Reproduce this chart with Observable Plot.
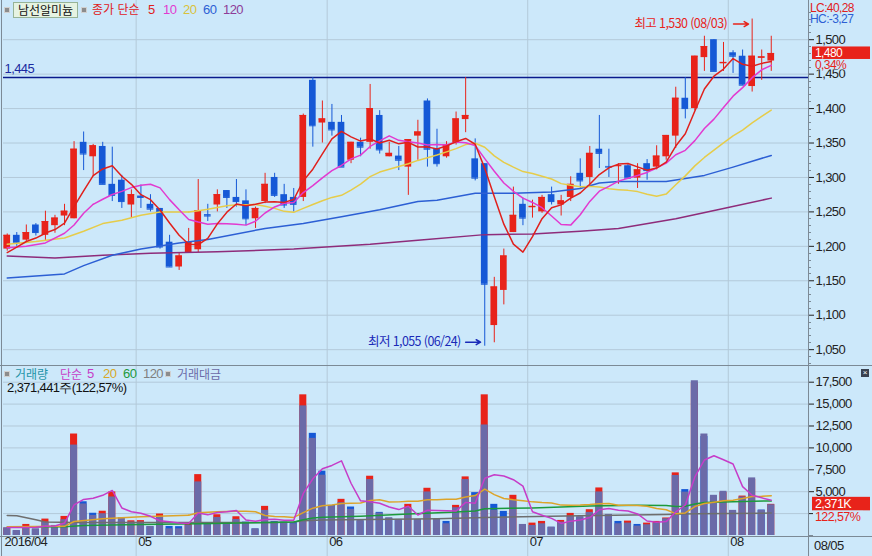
<!DOCTYPE html>
<html lang="ko"><head><meta charset="utf-8">
<script src="https://cdn.jsdelivr.net/npm/d3@7"></script>
<script src="https://cdn.jsdelivr.net/npm/@observablehq/plot@0.6"></script>
<style>
html,body{margin:0;padding:0;background:#cce8fa;}
#wrap{position:relative;width:872px;height:556px;overflow:hidden;background:#cce8fa;}
#topPanel,#botPanel{position:absolute;left:0;}
#topPanel{top:0}#botPanel{top:365px}
#wrap svg text{letter-spacing:-0.6px;}
.lg{position:absolute;white-space:nowrap;font-family:'Liberation Sans',sans-serif;font-size:13px;line-height:12px;letter-spacing:-0.6px;}
.sm{font-size:12px;line-height:10px;}
.kr{font-family:'Noto Sans CJK KR',sans-serif;font-size:12px;letter-spacing:0;}
.sq{position:absolute;width:4px;height:4px;background:#8c8c8c;border:1px solid #d0d0d0;}
#name{position:absolute;left:13px;top:2px;width:63px;height:14px;background:#e6f3e2;border:1px solid #97b497;font-family:'Noto Sans CJK KR',sans-serif;font-size:12px;line-height:14px;text-align:center;color:#111;}
#xbtn{position:absolute;left:861px;top:369px;width:8px;height:8px;background:#3a4250;color:#fff;font:8px/8px sans-serif;text-align:center;}
</style></head>
<body><div id="wrap">
<div id="topPanel"></div><div id="botPanel"></div>
<div class="sq" style="left:4px;top:7px"></div>
<div id="name">남선알미늄</div>
<div class="sq" style="left:81px;top:7px"></div>
<div class="lg kr" style="left:92px;top:3px;color:#e0201c">종가 단순</div>
<div class="lg" style="left:148px;top:4px;color:#e0201c">5</div>
<div class="lg" style="left:163px;top:4px;color:#e23ad0">10</div>
<div class="lg" style="left:183px;top:4px;color:#d9c23a">20</div>
<div class="lg" style="left:203px;top:4px;color:#2c5fd4">60</div>
<div class="lg" style="left:223px;top:4px;color:#8e3c98">120</div>
<div class="lg sm" id="lc" style="left:810px;top:3px;color:#e0201c"></div>
<div class="lg sm" id="hc" style="left:810px;top:14px;color:#2c5fd4"></div>
<div class="sq" style="left:4px;top:371px"></div>
<div class="lg kr" style="left:15px;top:368px;color:#1f94a8">거래량</div>
<div class="lg kr" style="left:60px;top:368px;color:#c63cc8">단순</div>
<div class="lg" style="left:87px;top:368px;color:#c63cc8">5</div>
<div class="lg" style="left:103px;top:368px;color:#d8a828">20</div>
<div class="lg" style="left:123px;top:368px;color:#1c9a3c">60</div>
<div class="lg" style="left:143px;top:368px;color:#808080">120</div>
<div class="sq" style="left:165px;top:371px"></div>
<div class="lg kr" style="left:177px;top:368px;color:#6b6aa8">거래대금</div>
<div class="lg" id="volinfo" style="left:7px;top:382px;color:#111"></div>
<div id="xbtn">×</div>
</div>
<script>
// ---------------- data ----------------
const dates = ["04/11","04/12","04/14","04/15","04/18","04/19","04/20","04/21","04/22","04/25","04/26","04/27","04/28","04/29",
"05/02","05/03","05/04","05/09","05/10","05/11","05/12","05/13","05/16","05/17","05/18","05/19","05/20","05/23","05/24","05/25","05/26","05/27","05/30","05/31",
"06/01","06/02","06/03","06/07","06/08","06/09","06/10","06/13","06/14","06/15","06/16","06/17","06/20","06/21","06/22","06/23","06/24","06/27","06/28","06/29","06/30",
"07/01","07/04","07/05","07/06","07/07","07/08","07/11","07/12","07/13","07/14","07/15","07/18","07/19","07/20","07/21","07/22","07/25","07/26","07/27","07/28","07/29",
"08/01","08/02","08/03","08/04","08/05"];
const monthLabels = ["2016/04","05","06","07","08"];
const open = [1196,1216,1209,1231,1216,1230,1244,1240,1351,1330,
1345,1290,1296,1260,1273,1261,1255,1206,1170,1190,
1195,1246,1260,1281,1271,1266,1240,1265,1300,1275,
1271,1271,1441,1379,1380,1380,1325,1351,1351,1390,
1330,1331,1315,1360,1411,1342,1330,1350,1384,1327,
1320,1085,1136,1220,1261,1256,1250,1275,1260,1271,
1306,1300,1341,1316,1316,1317,1299,1320,1315,1330,
1360,1415,1400,1474,1500,1465,1481,1476,1432,1473,1469];
const high = [1218,1220,1231,1233,1251,1245,1261,1352,1366,1348,
1351,1344,1303,1282,1289,1275,1255,1216,1191,1226,
1297,1261,1282,1281,1297,1282,1257,1306,1306,1290,
1284,1392,1445,1411,1406,1390,1351,1357,1435,1397,
1351,1345,1355,1383,1414,1370,1352,1395,1445,1356,
1320,1155,1196,1286,1270,1267,1274,1286,1274,1301,
1327,1345,1390,1341,1320,1320,1320,1326,1346,1361,
1431,1445,1476,1505,1500,1496,1484,1485,1530,1485,1505];
const low = [1193,1200,1207,1215,1207,1219,1230,1240,1310,1301,
1290,1265,1255,1241,1255,1250,1196,1170,1165,1190,
1191,1236,1250,1255,1257,1230,1226,1262,1271,1255,
1250,1265,1344,1350,1360,1315,1320,1330,1341,1334,
1330,1310,1274,1325,1315,1315,1328,1347,1365,1295,
1055,1060,1115,1220,1230,1241,1248,1260,1244,1265,
1284,1289,1313,1300,1290,1297,1284,1296,1311,1325,
1342,1385,1397,1454,1454,1454,1451,1434,1424,1441,1454];
const close = [1216,1205,1220,1220,1236,1241,1251,1341,1334,1346,
1290,1274,1265,1275,1271,1254,1199,1170,1186,1206,
1252,1244,1275,1271,1265,1240,1255,1290,1274,1260,
1261,1390,1375,1385,1369,1315,1351,1344,1400,1340,
1335,1325,1355,1366,1341,1320,1347,1385,1390,1299,
1145,1141,1186,1245,1241,1258,1271,1265,1266,1290,
1295,1335,1335,1315,1317,1299,1311,1310,1331,1361,
1415,1400,1476,1490,1454,1467,1476,1434,1476,1475,1480];
// trading value (million KRW) = right-axis units of the lower panel
const amount = [880,573,1032,764,1529,1147,1800,10323,3600,2294,
2485,4397,2026,1529,1529,1032,2141,765,765,1147,
6117,1338,2064,1415,1835,1338,765,2868,1529,1453,
1338,14796,11088,6882,3365,3747,2982,1720,6385,2561,
2026,1835,3173,1835,4970,1835,1338,3173,6385,4588,
12617,2868,2103,4014,1262,1147,1338,956,1529,2179,
2141,2638,4970,2409,1338,1415,1070,1224,1415,1912,
6850,4950,17664,11585,4588,5047,2868,4400,6576,2880,3510];
// volume (thousand shares)
const volume = [560,360,841,467,1249,733,1453,7723,2567,1693,
1847,3313,1067,1120,1133,667,1633,688,673,892,
4633,969,1580,920,1427,1019,493,2217,1067,1019,
993,10705,7774,4894,2293,2753,2167,1100,4511,1760,
1300,1187,2371,1187,3594,1187,1071,2293,4460,3263,
10705,2371,1835,3059,820,943,1071,620,1147,1682,
1400,1963,3619,1567,1071,1096,841,943,1071,1333,
4767,3493,11600,7533,2933,3267,1867,3000,4267,1934.7,2371.441];
const VOL_SCALE = 1.5; // volume bars share the panel with trading value
const priceTicks = [1050,1100,1150,1200,1250,1300,1350,1400,1450,1500];
const volTicks = [2500,5000,7500,10000,12500,15000,17500];
const refLevel = 1445;
const ma5HeadIdx = [0,1,2,3,4], ma5HeadVal = [1191,1199,1207,1212,1219];
const ma10HeadIdx = [0,2,4,6,7,8,9], ma10HeadVal = [1198,1200,1205,1219,1231,1248,1261];
const ma20HeadIdx = [0,3,6,8,10,12,14,16,19], ma20HeadVal = [1203,1207,1212,1222,1233,1238,1245,1250,1250];
const ma60Idx = [0,6,8,11,14,18,21,27,31,35,39,43,45,49,53,57,60,62,64,69,73,76,80];
const ma60Val = [1154,1160,1172,1187,1196,1205,1210,1226,1233,1243,1253,1265,1267,1277,1277,1279,1284,1292,1294,1294,1303,1315,1332];
const ma120Idx = [0,5,10,15,22,30,38,43,50,55,60,64,70,75,80];
const ma120Val = [1186,1183,1187,1190,1192,1196,1203,1209,1217,1218,1222,1226,1240,1255,1270];
const vma5HeadIdx = [0,1,2,3,4], vma5HeadVal = [920,900,900,950,1043];
const vma20HeadIdx = [0,6,7,10,14,19], vma20HeadVal = [1000,1050,1600,1900,2150,2301];
const vma60Idx = [0,6,8,14,20,26,30,31,32,33,37,42,47,49,50,55,61,66,69,70,71,72,73,76,80];
const vma60Val = [956,1000,1150,1262,1340,1453,1530,1800,1990,2080,2200,2450,2680,2800,3060,3150,3365,3441,3420,3300,3330,3600,3760,3850,3950];
const vma120Idx = [0,1,3,4,7,28,30,31,33,45,50,60,69,72,80];
const vma120Val = [2294,2250,1800,1550,1480,1480,1550,1680,1760,1900,2050,2250,2400,2480,2560];

// ---------------- style ----------------
const RED = "#e8231a", BLUE = "#1558d6", PURPLE = "#6b6aa8";
const GRID = "#b3c9d9", AXIS = "#7c8a96", BG = "#cce8fa";
const C5 = "#e0201c", C10 = "#e23ad0", C20 = "#e6cc4a", C60 = "#2c5fd4", C120 = "#8e2c7a";
const V5 = "#c63cc8", V20 = "#dca42a", V60 = "#1c9a3c", V120 = "#6e6e6e";
const FONT = "'Liberation Sans',sans-serif";
const KFONT = "'Noto Sans CJK KR',sans-serif";
const fmt = d3.format(",");
const dec = v => v.toFixed(2).replace(".", ",");

const N = close.length, last = N - 1;
const rows = d3.range(N).map(i => ({i, o: open[i], h: high[i], l: low[i], c: close[i],
  amt: amount[i], vol: volume[i], volUp: i === 0 || volume[i] > volume[i - 1]}));
const monthStart = d3.range(N).filter(i => i === 0 || dates[i].slice(0, 2) !== dates[i - 1].slice(0, 2));
const pts = (idx, val) => idx.map((x, k) => ({x, y: val[k]}));
const hiIdx = d3.maxIndex(high), loIdx = d3.minIndex(low);
const xDomain = [-0.39, 83.9];
const priceDomain = [1027, 1554];

function label(g, x, y, txt, fill, size) {
  g.append("text").attr("x", x).attr("y", y).attr("dy", "0.36em").attr("fill", fill)
    .attr("font-size", size || 13).attr("text-anchor", "start").text(txt);
}

function priceSide(index, scales, values, dims) {
  const y = scales.y, W = dims.width, H = dims.height, x0 = W - dims.marginRight;
  const g = d3.create("svg:g").attr("font-family", FONT).attr("text-anchor", "start");
  g.append("line").attr("x1", 1.5).attr("x2", 1.5).attr("y1", 0).attr("y2", H).attr("stroke", AXIS);
  g.append("line").attr("x1", x0 + 0.5).attr("x2", x0 + 0.5).attr("y1", 0).attr("y2", H).attr("stroke", AXIS);
  for (let p = 1030; p <= 1550; p += 10) if (p % 50) {
    const yy = Math.round(y(p)) + 0.5;
    g.append("line").attr("x1", x0).attr("x2", x0 + 3).attr("y1", yy).attr("y2", yy).attr("stroke", AXIS);
  }
  const yc = y(close[last]);
  g.append("rect").attr("x", x0 + 4).attr("y", yc - 6.5).attr("width", 58).attr("height", 12.5).attr("fill", RED);
  label(g, x0 + 7, yc, fmt(close[last]), "#fff", 12);
  g.append("rect").attr("x", x0 + 5).attr("y", yc + 6.5).attr("width", 40).attr("height", 10).attr("fill", BG);
  label(g, x0 + 7, yc + 11.5, dec((close[last] - close[last - 1]) / close[last - 1] * 100) + "%", RED, 12);
  return g.node();
}

function volSide(index, scales, values, dims) {
  const y = scales.y, W = dims.width, H = dims.height, x0 = W - dims.marginRight, fb = H - dims.marginBottom;
  const g = d3.create("svg:g").attr("font-family", FONT).attr("text-anchor", "start");
  g.append("line").attr("x1", 0).attr("x2", W).attr("y1", 0.5).attr("y2", 0.5).attr("stroke", AXIS);
  g.append("line").attr("x1", 0).attr("x2", W).attr("y1", fb + 1.5).attr("y2", fb + 1.5).attr("stroke", AXIS);
  g.append("line").attr("x1", 1.5).attr("x2", 1.5).attr("y1", 0).attr("y2", H).attr("stroke", AXIS);
  g.append("line").attr("x1", x0 + 0.5).attr("x2", x0 + 0.5).attr("y1", 0).attr("y2", H).attr("stroke", AXIS);
  g.append("line").attr("x1", x0).attr("x2", x0 + 5).attr("y1", Math.round(y(0)) + 0.5).attr("y2", Math.round(y(0)) + 0.5).attr("stroke", AXIS);
  const yv = y(volume[last] * VOL_SCALE);
  g.append("rect").attr("x", x0 + 4).attr("y", yv - 7).attr("width", 58).attr("height", 13.5).attr("fill", RED);
  label(g, x0 + 7, yv, fmt(Math.round(volume[last])) + "K", "#fff", 12.5);
  g.append("rect").attr("x", x0 + 5).attr("y", yv + 7).attr("width", 50).attr("height", 11).attr("fill", BG);
  label(g, x0 + 7, yv + 13, dec(volume[last] / volume[last - 1] * 100) + "%", RED, 12.5);
  label(g, x0 + 6, fb + 10, dates[last], "#222");
  return g.node();
}

const topPlot = Plot.plot({
  width: 872, height: 365, marginLeft: 3, marginRight: 64, marginTop: 2, marginBottom: 0,
  style: {background: "transparent", fontFamily: FONT, fontSize: "13px", color: "#222", overflow: "visible"},
  x: {domain: xDomain, axis: null},
  y: {domain: priceDomain, axis: "right", ticks: priceTicks, tickFormat: fmt, tickSize: 5, tickPadding: 2, label: null},
  marks: [
    Plot.ruleY(priceTicks, {stroke: GRID}),
    Plot.ruleX(monthStart.slice(1), {x: d => d - 0.5, stroke: GRID, insetTop: -2}),
    Plot.ruleY([refLevel], {stroke: "#0a1a8c", strokeWidth: 1.5}),
    Plot.text([refLevel], {y: d => d, text: d => fmt(d), frameAnchor: "left", textAnchor: "start", dx: 1, dy: -9, fill: "#1a2aa0", fontSize: 13}),
    Plot.ruleX(rows, {x: "i", y1: "l", y2: "h", stroke: d => d.c >= d.o ? RED : BLUE}),
    Plot.rect(rows, {x1: d => d.i - 0.35, x2: d => d.i + 0.35, y1: "o", y2: "c", fill: d => d.c >= d.o ? RED : BLUE}),
    Plot.ruleY(rows, {x1: d => d.i - 0.35, x2: d => d.i + 0.35, y: "c", stroke: d => d.c >= d.o ? RED : BLUE}),
    Plot.line(pts(ma120Idx, ma120Val), {x: "x", y: "y", stroke: C120}),
    Plot.line(pts(ma60Idx, ma60Val), {x: "x", y: "y", stroke: C60}),
    Plot.line(pts(ma20HeadIdx, ma20HeadVal), {x: "x", y: "y", stroke: C20}),
    Plot.lineY(rows, Plot.windowY({k: 20, anchor: "end", reduce: "mean", strict: true}, {x: "i", y: "c", stroke: C20})),
    Plot.line(pts(ma10HeadIdx, ma10HeadVal), {x: "x", y: "y", stroke: C10}),
    Plot.lineY(rows, Plot.windowY({k: 10, anchor: "end", reduce: "mean", strict: true}, {x: "i", y: "c", stroke: C10})),
    Plot.line(pts(ma5HeadIdx, ma5HeadVal), {x: "x", y: "y", stroke: C5}),
    Plot.lineY(rows, Plot.windowY({k: 5, anchor: "end", reduce: "mean", strict: true}, {x: "i", y: "c", stroke: C5})),
    Plot.text([hiIdx], {x: d => d, y: d => high[d], text: d => `최고 ${fmt(high[d])} (${dates[d]})`, textAnchor: "end", dx: -25, dy: 5, fill: RED, fontSize: 12.5, fontFamily: KFONT}),
    Plot.arrow([hiIdx], {x1: d => d - 1.95, x2: d => d - 0.38, y1: d => high[d], y2: d => high[d], dy: 5, stroke: RED, strokeWidth: 1.5, headLength: 6}),
    Plot.text([loIdx], {x: d => d, y: d => low[d], text: d => `최저 ${fmt(low[d])} (${dates[d]})`, textAnchor: "end", dx: -24, dy: -4, fill: "#1a2ab8", fontSize: 12.5, fontFamily: KFONT}),
    Plot.arrow([loIdx], {x1: d => d - 2.0, x2: d => d - 0.44, y1: d => low[d], y2: d => low[d], dy: -4, stroke: "#1a2ab8", strokeWidth: 1.5, headLength: 6}),
    priceSide
  ]
});
document.getElementById("topPanel").appendChild(topPlot);

const botPlot = Plot.plot({
  width: 872, height: 191, marginLeft: 3, marginRight: 64, marginTop: 0, marginBottom: 21,
  style: {background: "transparent", fontFamily: FONT, fontSize: "13px", color: "#222", overflow: "visible"},
  x: {domain: xDomain, axis: null},
  y: {domain: [0, 19406], axis: "right", ticks: volTicks, tickFormat: d => d < 5000 ? "" : fmt(d), tickSize: 5, tickPadding: 2, label: null},
  marks: [
    Plot.ruleY(volTicks, {stroke: GRID}),
    Plot.ruleX(monthStart.slice(1), {x: d => d - 0.5, stroke: GRID, insetBottom: -21}),
    Plot.rectY(rows, {x1: d => d.i - 0.37, x2: d => d.i + 0.37, y: d => d.vol * VOL_SCALE, fill: d => d.volUp ? RED : BLUE}),
    Plot.rectY(rows, {x1: d => d.i - 0.37, x2: d => d.i + 0.37, y: "amt", fill: PURPLE}),
    Plot.line(pts(vma120Idx, vma120Val), {x: "x", y: "y", stroke: V120}),
    Plot.line(pts(vma60Idx, vma60Val), {x: "x", y: "y", stroke: V60}),
    Plot.line(pts(vma20HeadIdx, vma20HeadVal), {x: "x", y: "y", stroke: V20}),
    Plot.lineY(rows, Plot.windowY({k: 20, anchor: "end", reduce: "mean", strict: true}, {x: "i", y: d => d.vol * VOL_SCALE, stroke: V20})),
    Plot.line(pts(vma5HeadIdx, vma5HeadVal), {x: "x", y: "y", stroke: V5}),
    Plot.lineY(rows, Plot.windowY({k: 5, anchor: "end", reduce: "mean", strict: true}, {x: "i", y: d => d.vol * VOL_SCALE, stroke: V5})),
    Plot.text(monthStart, {x: d => d - 0.5, text: (d, k) => monthLabels[k], frameAnchor: "bottom", textAnchor: "start", dx: 2, dy: 10, fill: "#222", fontSize: 13}),
    volSide
  ]
});
document.getElementById("botPanel").appendChild(botPlot);

document.getElementById("lc").textContent = "LC:" + dec((close[last] - low[loIdx]) / low[loIdx] * 100);
document.getElementById("hc").textContent = "HC:" + dec((close[last] - high[hiIdx]) / high[hiIdx] * 100);
document.getElementById("volinfo").textContent = fmt(Math.round(volume[last] * 1000)) + "주(" + dec(volume[last] / volume[last - 1] * 100) + "%)";
</script></body></html>
